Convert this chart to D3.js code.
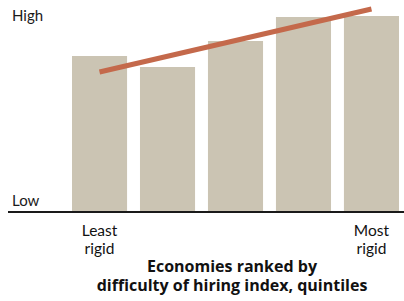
<!DOCTYPE html>
<html>
<head>
<meta charset="utf-8">
<script src="https://cdn.jsdelivr.net/npm/d3@7"></script>
<style>
	body{margin:0;background:#fff;}
	svg{display:block;font-family:Lato, "Open Sans", sans-serif;}
</style>
</head>
<body>
<svg id="chart"></svg>
<script>
// quintiles of the difficulty of hiring index, least -> most rigid
const quintiles = ['Q1','Q2','Q3','Q4','Q5'];
// relative level, 0 = Low, 100 = High
const levels = [77.5, 72, 85, 97, 97.5];
// fitted trend, at first and last quintile
const trendQuintiles = ['Q1','Q5'];
const trendLevels = [69.5, 101];
const axisLabels = ['Low','High'];
const endLabels = [['Least','rigid'],['Most','rigid']];
const titleLines = ['Economies ranked by','difficulty of hiring index, quintiles'];

const width = 404, height = 301;
const svg = d3.select('#chart').attr('width',width).attr('height',height);

const x = d3.scaleBand()
	.domain(quintiles)
	.range([72,399])
	.paddingInner(0.19)
	.paddingOuter(0);

const y = d3.scaleLinear()
	.domain([0,100])
	.range([211,11]);

svg.selectAll('rect.bar')
	.data(levels)
	.join('rect')
		.classed('bar',true)
		.attr('x',(d,i)=>x(quintiles[i]))
		.attr('width',x.bandwidth())
		.attr('y',d=>y(d))
		.attr('height',d=>y(0)-y(d))
		.attr('fill','#cbc4b3');

// baseline
svg.append('line')
	.attr('x1',8).attr('x2',width)
	.attr('y1',y(0)+1).attr('y2',y(0)+1)
	.attr('stroke','#1a1a1a')
	.attr('stroke-width',2);

// trend line
const line = d3.line()
	.x(d=>x(d[0])+x.bandwidth()/2)
	.y(d=>y(d[1]));
svg.append('path')
	.datum(trendQuintiles.map((q,i)=>[q,trendLevels[i]]))
	.attr('d',line)
	.attr('fill','none')
	.attr('stroke','#c4694b')
	.attr('stroke-width',5);

// Low / High
svg.selectAll('text.ylab')
	.data(axisLabels)
	.join('text')
		.classed('ylab',true)
		.attr('x',12)
		.attr('y',(d,i)=>i==0 ? 205.5 : 21)
		.attr('font-size',15)
		.attr('fill','#1a1a1a')
		.text(d=>d);

// Least / Most rigid
const ends = svg.selectAll('text.end')
	.data(endLabels)
	.join('text')
		.classed('end',true)
		.attr('x',(d,i)=>x(quintiles[i==0?0:quintiles.length-1])+x.bandwidth()/2)
		.attr('text-anchor','middle')
		.attr('font-size',15.5)
		.attr('fill','#111');
ends.selectAll('tspan')
	.data(d=>d)
	.join('tspan')
		.attr('x',function(){return d3.select(this.parentNode).attr('x');})
		.attr('y',(d,i)=>235.5+i*18.5)
		.text(d=>d);

// axis title
svg.selectAll('text.title')
	.data(titleLines)
	.join('text')
		.classed('title',true)
		.attr('x',232)
		.attr('y',(d,i)=>272+i*18.5)
		.attr('text-anchor','middle')
		.attr('font-family','"Open Sans", sans-serif')
		.attr('font-size',16)
		.attr('font-weight','bold')
		.attr('fill','#111')
		.text(d=>d);
</script>
</body>
</html>
